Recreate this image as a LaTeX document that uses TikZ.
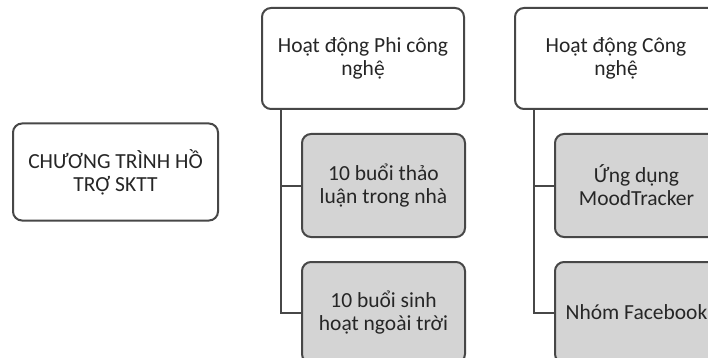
\documentclass[tikz,border=0pt]{standalone}
\usepackage{fontspec}
\setmainfont{Carlito}
\begin{document}
\begin{tikzpicture}[x=1pt,y=-1pt,
  box/.style={draw=black!72,line width=2pt,rounded corners=9pt,fill=white,
    align=center,font=\fontsize{21.5}{23}\selectfont,text=black!85,inner sep=0pt},
  child/.style={box,fill=black!17},
  conn/.style={draw=black!72,line width=2pt}]
\useasboundingbox (0,0) rectangle (708,358);
\clip (0,0) rectangle (708,358);
\fill[white] (0,0) rectangle (708,358);
\node[box,minimum width=205pt,minimum height=97pt] (root) at (115.5,172) {CHƯƠNG TRÌNH HỒ\\TRỢ SKTT};
\node[box,minimum width=202pt,minimum height=101pt] (a) at (363,58.5) {Hoạt động Phi công\\nghệ};
\node[child,minimum width=163pt,minimum height=103pt] (a1) at (383.5,185.5) {10 buổi thảo\\luận trong nhà};
\node[child,minimum width=163pt,minimum height=101pt] (a2) at (383.5,312.5) {10 buổi sinh\\hoạt ngoài trời};
\node[box,minimum width=202pt,minimum height=101pt] (b) at (616,58.5) {Hoạt động Công\\nghệ};
\node[child,minimum width=163pt,minimum height=103pt] (b1) at (636.5,185.5) {Ứng dụng\\MoodTracker};
\node[child,minimum width=163pt,minimum height=101pt] (b2) at (636.5,312.5) {Nhóm Facebook};
\draw[conn] ([xshift=20pt]a.south west) |- (a1.west);
\draw[conn] ([xshift=20pt]a.south west) |- (a2.west);
\draw[conn] ([xshift=20pt]b.south west) |- (b1.west);
\draw[conn] ([xshift=20pt]b.south west) |- (b2.west);
\end{tikzpicture}
\end{document}
